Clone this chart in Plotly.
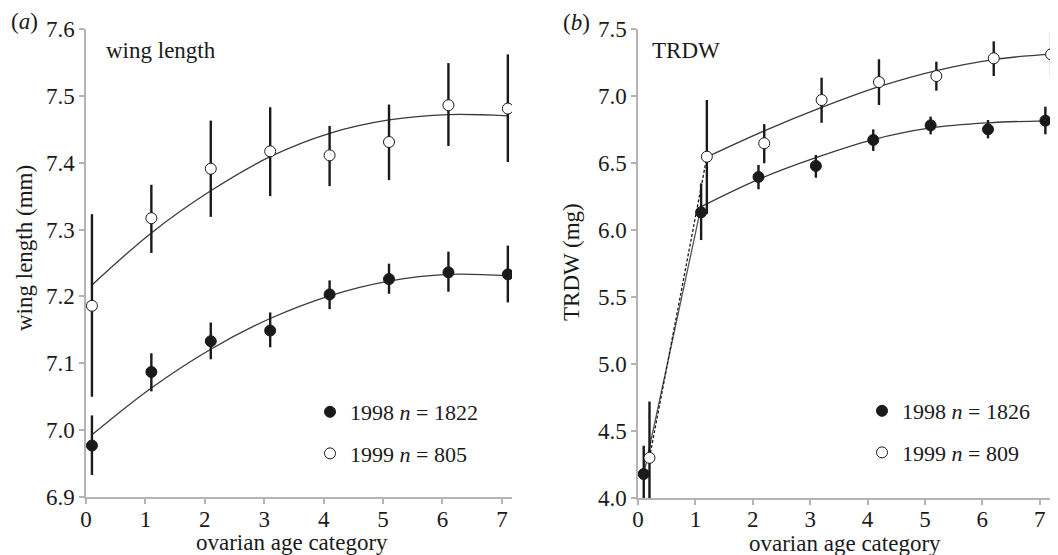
import plotly.graph_objects as go
from plotly.subplots import make_subplots

# ovarian age categories
categories = [0, 1, 2, 3, 4, 5, 6, 7]

# (a) wing length (mm)
wing_1998 = [6.977, 7.087, 7.133, 7.149, 7.203, 7.226, 7.236, 7.233]
wing_1998_hi = [7.022, 7.115, 7.161, 7.176, 7.224, 7.249, 7.267, 7.276]
wing_1998_lo = [6.933, 7.058, 7.106, 7.124, 7.181, 7.204, 7.207, 7.191]
wing_1998_fit = [6.993, 7.063, 7.121, 7.167, 7.201, 7.223, 7.233, 7.231]

wing_1999 = [7.186, 7.317, 7.391, 7.417, 7.411, 7.431, 7.486, 7.481]
wing_1999_hi = [7.323, 7.367, 7.463, 7.483, 7.455, 7.487, 7.549, 7.562]
wing_1999_lo = [7.050, 7.265, 7.319, 7.350, 7.365, 7.374, 7.425, 7.401]
wing_1999_fit = [7.217, 7.295, 7.358, 7.409, 7.444, 7.464, 7.472, 7.470]

# (b) TRDW (mg)
trdw_1998 = [4.179, 6.132, 6.396, 6.478, 6.672, 6.781, 6.751, 6.816]
trdw_1998_hi = [4.39, 6.348, 6.485, 6.56, 6.751, 6.846, 6.821, 6.92]
trdw_1998_lo = [3.95, 5.925, 6.304, 6.39, 6.59, 6.714, 6.684, 6.714]
trdw_1998_fit = [6.174, 6.378, 6.54, 6.675, 6.762, 6.80, 6.815]  # categories 1..7

trdw_1999 = [4.30, 6.547, 6.647, 6.970, 7.104, 7.149, 7.281, 7.311]
trdw_1999_hi = [4.72, 6.97, 6.79, 7.137, 7.274, 7.256, 7.408, 7.47]
trdw_1999_lo = [3.95, 6.12, 6.498, 6.80, 6.933, 7.04, 7.149, 7.157]
trdw_1999_fit = [6.545, 6.74, 6.915, 7.07, 7.19, 7.272, 7.313]  # categories 1..7

legend_a = ["1998 <i>n</i> = 1822", "1999 <i>n</i> = 805"]
legend_b = ["1998 <i>n</i> = 1826", "1999 <i>n</i> = 809"]

FONT = "Liberation Serif, Times New Roman, serif"
INK = "#1a1a1a"
AXIS = "#b4b4b4"
CURVE = "#3a3a3a"

# page body keeps its default 8px margin, so the figure is a bit smaller
OFF = 8
W, H = 1058 - OFF, 555 - OFF


def px(sx):
    return (sx - OFF) / W


def py(sy):
    return 1 - (sy - OFF) / H


def shift(vals, d):
    return [v + d for v in vals]


def errs(mean, hi, lo):
    return ([h - m for h, m in zip(hi, mean)], [m - l for m, l in zip(mean, lo)])


def add_points(fig, col, x, mean, hi, lo, filled, name, legend):
    up, down = errs(mean, hi, lo)
    fig.add_trace(go.Scatter(
        x=x, y=mean, mode="markers", name=name, legend=legend,
        legendgroup=name + legend,
        marker=dict(size=11, color=INK if filled else "white",
                    line=dict(color=INK, width=1)),
        error_y=dict(type="data", symmetric=False, array=up, arrayminus=down,
                     color=INK, thickness=2.4, width=0),
    ), row=1, col=col)


def add_curve(fig, col, x, y, dash="solid", color=CURVE):
    fig.add_trace(go.Scatter(
        x=x, y=y, mode="lines", showlegend=False, hoverinfo="skip",
        line=dict(color=color, width=1.3, shape="spline", dash=dash),
    ), row=1, col=col)


fig = make_subplots(rows=1, cols=2)

xa = shift(categories, 0.1)
add_curve(fig, 1, xa, wing_1999_fit)
add_curve(fig, 1, xa, wing_1998_fit)
add_points(fig, 1, xa, wing_1998, wing_1998_hi, wing_1998_lo, True, legend_a[0], "legend")
add_points(fig, 1, xa, wing_1999, wing_1999_hi, wing_1999_lo, False, legend_a[1], "legend")

xb98 = shift(categories, 0.1)
xb99 = shift(categories, 0.2)
add_curve(fig, 2, xb98[1:], trdw_1998_fit)
add_curve(fig, 2, xb99[1:], trdw_1999_fit)
add_curve(fig, 2, xb98[:2], [trdw_1998[0], trdw_1998_fit[0]], color="#555")
add_curve(fig, 2, xb99[:2], [trdw_1999[0], trdw_1999_fit[0]], dash="3px,2px", color=INK)
add_points(fig, 2, xb98, trdw_1998, trdw_1998_hi, trdw_1998_lo, True, legend_b[0], "legend2")
add_points(fig, 2, xb99, trdw_1999, trdw_1999_hi, trdw_1999_lo, False, legend_b[1], "legend2")

ax_common = dict(showline=True, linecolor=AXIS, linewidth=1.5, ticks="outside",
                 tickcolor=AXIS, ticklen=5, tickwidth=1.5, showgrid=False,
                 zeroline=False, automargin=False,
                 tickfont=dict(family=FONT, size=23, color=INK))

fig.update_xaxes(ax_common)
fig.update_yaxes(ax_common)
fig.update_xaxes(range=[0, 7.17], dtick=1, domain=[px(86), px(512)],
                 ticklabelstandoff=-4, row=1, col=1)
fig.update_xaxes(range=[0, 7.32], dtick=1, domain=[px(638), 1.0],
                 ticklabelstandoff=-5, row=1, col=2)
fig.update_yaxes(range=[6.9, 7.6], dtick=0.1, tickformat=".1f",
                 domain=[py(497), py(29)], row=1, col=1)
fig.update_yaxes(range=[4.0, 7.5], dtick=0.5, tickformat=".1f",
                 domain=[py(498), py(29)], row=1, col=2)

legend_style = dict(font=dict(family=FONT, size=22, color=INK), bgcolor="rgba(0,0,0,0)",
                    traceorder="grouped", tracegroupgap=10, xanchor="left",
                    yanchor="middle", itemclick=False)

txt = dict(family=FONT, size=23, color=INK)
annotations = [
    dict(text="(<i>a</i>)", x=px(9), y=py(21), xanchor="left"),
    dict(text="(<i>b</i>)", x=px(561), y=py(22), xanchor="left"),
    dict(text="wing length", x=px(104), y=py(50), xanchor="left"),
    dict(text="TRDW", x=px(650), y=py(50), xanchor="left"),
    dict(text="wing length (mm)", x=px(25), y=py(248), textangle=-90),
    dict(text="TRDW (mg)", x=px(572), y=py(262), textangle=-90),
    dict(text="ovarian age category", x=px(292), y=py(542)),
    dict(text="ovarian age category", x=px(845), y=py(543)),
]
for a in annotations:
    a.update(xref="paper", yref="paper", showarrow=False, font=txt)
    a.setdefault("xanchor", "center")
    a.setdefault("yanchor", "middle")

fig.update_layout(
    width=W, height=H,
    margin=dict(l=0, r=0, t=0, b=0),
    paper_bgcolor="white", plot_bgcolor="white",
    font=dict(family=FONT, color=INK),
    legend=dict(legend_style, x=px(310), y=py(433)),
    legend2=dict(legend_style, x=px(862), y=py(432)),
    annotations=annotations,
)

fig.write_html("out.html")
